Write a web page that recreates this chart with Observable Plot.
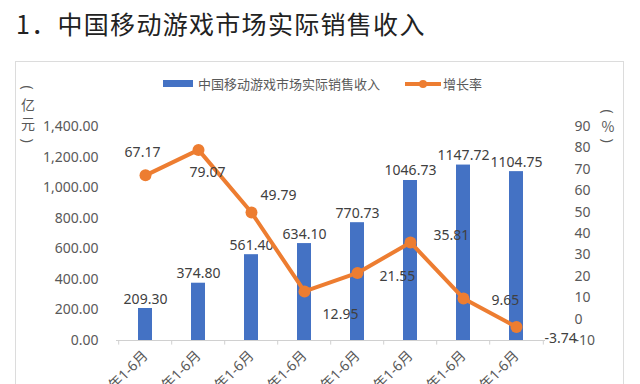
<!DOCTYPE html>
<html>
<head>
<meta charset="utf-8">
<script src="https://cdn.jsdelivr.net/npm/d3@7"></script>
<script src="https://cdn.jsdelivr.net/npm/@observablehq/plot@0.6"></script>
<style>
  html, body { margin: 0; padding: 0; background: #fff; width: 640px; height: 384px; overflow: hidden; }
  body { position: relative; font-family: "Noto Sans CJK SC", "Noto Sans", sans-serif; }
  #title { position: absolute; left: 16px; top: 5px; font-size: 25px; color: #222; letter-spacing: 1.3px; white-space: nowrap; }
  #frame { position: absolute; left: 15px; top: 61px; width: 607px; height: 400px; border: 1px solid #dcdcdc; }
  #chart { position: absolute; left: 0; top: 0; }
  .legend { position: absolute; top: 74px; font-size: 13px; color: #595959; white-space: nowrap; display: flex; align-items: center; }
  .unit { position: absolute; width: 20px; font-size: 14px; color: #595959; text-align: center; }
  .unit span { display: block; height: 19px; line-height: 19px; overflow: visible; }
  .unit span.p { height: 15px; line-height: 15px; transform: rotate(90deg); font-family: "Noto Sans", sans-serif; }
</style>
</head>
<body>
<div id="title">1．中国移动游戏市场实际销售收入</div>
<div id="frame"></div>
<div id="chart"></div>
<div class="legend" style="left:163px;">
  <span style="display:inline-block;width:30px;height:7px;background:#4472C4;margin-right:5px;"></span>
  <span>中国移动游戏市场实际销售收入</span>
</div>
<div class="legend" style="left:405px;">
  <svg width="36" height="10" style="margin-right:2px;"><line x1="0" y1="5" x2="36" y2="5" stroke="#ED7D31" stroke-width="4"/><circle cx="18" cy="5" r="4" fill="#ED7D31"/></svg>
  <span>增长率</span>
</div>
<div class="unit" style="left:18px;top:80px;"><span class="p">(</span><span>亿</span><span>元</span><span class="p">)</span></div>
<div class="unit" style="left:598px;top:104px;"><span class="p">(</span><span style="height:14px;line-height:14px;">%</span><span class="p">)</span></div>
<script>
const categories = ["2015年1-6月","2016年1-6月","2017年1-6月","2018年1-6月","2019年1-6月","2020年1-6月","2021年1-6月","2022年1-6月"];
const revenue = [209.30, 374.80, 561.40, 634.10, 770.73, 1046.73, 1147.72, 1104.75];
const growth = [67.17, 79.07, 49.79, 12.95, 21.55, 35.81, 9.65, -3.74];
const leftTicks = [0, 200, 400, 600, 800, 1000, 1200, 1400];
const rightTicks = [-10, 0, 10, 20, 30, 40, 50, 60, 70, 80, 90];

// secondary axis (-10..90) mapped onto primary (0..1400)
const toLeft = g => (g + 10) * 14;

const rows = categories.map((c, i) => ({cat: c, rev: revenue[i], g: growth[i], gy: toLeft(growth[i])}));

// label placement for growth labels: [anchor, dx, dy]
const gLabelLayout = [
  ["middle", -3, -23],
  ["middle", 9, 23],
  ["middle", 27, -17],
  ["middle", 36, 23],
  ["start", 22, 4],
  ["start", 23, -7],
  ["start", 28, 2],
  ["start", 28, 11]
];

const font = "'Noto Sans', 'Noto Sans CJK SC', sans-serif";

const gLabels = rows.map((r, i) => Plot.text([r], {
  x: "cat", y: "gy", text: d => d.g.toFixed(2),
  textAnchor: gLabelLayout[i][0], dx: gLabelLayout[i][1], dy: gLabelLayout[i][2],
  fontSize: 14, fill: "#404040"
}));

const plot = Plot.plot({
  width: 640,
  height: 384,
  marginLeft: 116,
  marginRight: 95,
  marginTop: 126,
  marginBottom: 44,
  style: {fontFamily: font, background: "transparent", overflow: "visible"},
  x: {type: "band", domain: categories, paddingInner: 0.74, paddingOuter: 0.37},
  y: {domain: [0, 1400]},
  marks: [
    Plot.axisY(leftTicks, {tickFormat: d3.format(",.2f"), tickSize: 0, tickPadding: 18, fontSize: 14, fill: "#595959", label: null}),
    Plot.axisY(rightTicks.map(toLeft), {anchor: "right", tickFormat: v => String(Math.round(v / 14 - 10)), tickSize: 0, tickPadding: 29, fontSize: 14, fill: "#595959", label: null}),
    Plot.barY(rows, {x: "cat", y: "rev", fill: "#4472C4"}),
    Plot.ruleY([0], {stroke: "#d0d0d0", strokeWidth: 1}),
    Plot.ruleX(categories, {x: d => d, y1: 0, y2: -30, dx: -26.8, stroke: "#d0d0d0"}),
    Plot.ruleX(categories.slice(-1), {x: d => d, y1: 0, y2: -30, dx: 26.8, stroke: "#d0d0d0"}),
    Plot.axisX({tickRotate: -45, tickSize: 0, tickPadding: 13, fontSize: 14, fill: "#595959", label: null}),
    Plot.text(rows, {x: "cat", y: "rev", text: d => d.rev.toFixed(2), lineAnchor: "bottom", dy: -5, fontSize: 14, fill: "#404040"}),
    Plot.line(rows, {x: "cat", y: "gy", stroke: "#ED7D31", strokeWidth: 4, strokeLinejoin: "round"}),
    Plot.dot(rows, {x: "cat", y: "gy", r: 6, fill: "#ED7D31"}),
    ...gLabels
  ]
});
document.getElementById("chart").appendChild(plot);
</script>
</body>
</html>
